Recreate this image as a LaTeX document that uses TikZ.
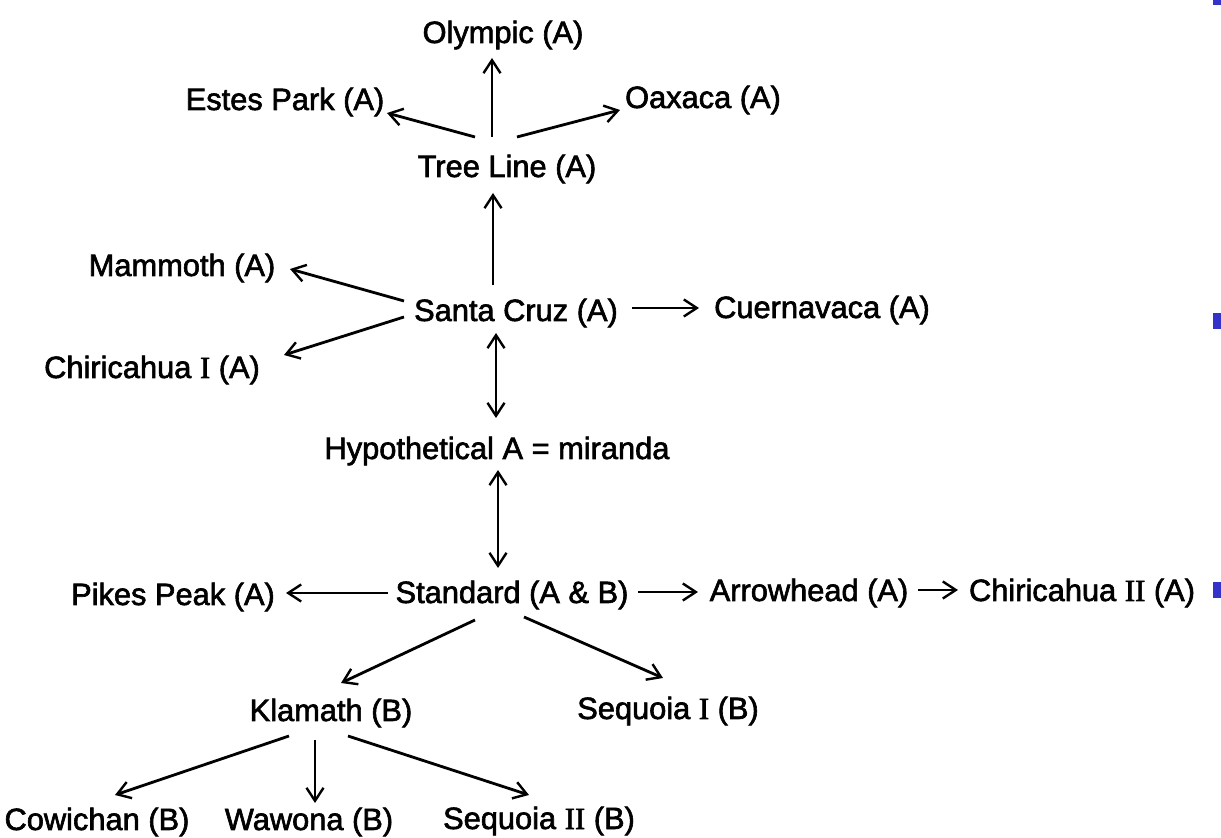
\documentclass[tikz,border=0pt]{standalone}
\usepackage{fontspec}
\newfontfamily\lblfont{Liberation Sans}[FakeBold=2]
\newfontfamily\romnum{Liberation Serif}[FakeBold=2]
\usetikzlibrary{arrows.meta,calc}
\begin{document}
\begin{tikzpicture}[x=0.5pt,y=-0.5pt,
  lbl/.style={inner sep=0pt,text height=11pt,text depth=3pt,font=\lblfont\fontsize{15.4}{18}\selectfont},
  tip/.style={},
  arr/.style={line width=1.4pt,-{Straight Barb[length=6.5pt,width=8.5pt,line width=1.2pt]}},
  darr/.style={line width=1.4pt,{Straight Barb[length=6.5pt,width=8.5pt,line width=1.2pt]}-{Straight Barb[length=6.5pt,width=8.5pt,line width=1.2pt]}},
  mark square/.style={fill={rgb,255:red,51;green,51;blue,204}}]
\useasboundingbox (0,0) rectangle (1221,838);
% nodes
\node[lbl] (ol) at (503,35) {Olympic (A)};
\node[lbl] (ep) at (285,102) {Estes Park (A)};
\node[lbl] (ox) at (703,100) {Oaxaca (A)};
\node[lbl] (tl) at (507,169) {Tree Line (A)};
\node[lbl] (mm) at (182,268) {Mammoth (A)};
\node[lbl] (sc) at (516,313) {Santa Cruz (A)};
\node[lbl] (cu) at (822,310) {Cuernavaca (A)};
\node[lbl] (c1) at (152,370) {Chiricahua {\romnum I} (A)};
\node[lbl] (hy) at (497,451) {Hypothetical A = miranda};
\node[lbl] (pp) at (173,597) {Pikes Peak (A)};
\node[lbl] (st) at (512,595) {Standard (A \& B)};
\node[lbl] (ar) at (809,593) {Arrowhead (A)};
\node[lbl] (c2) at (1082,593) {Chiricahua {\romnum II} (A)};
\node[lbl] (kl) at (331,713) {Klamath (B)};
\node[lbl] (s1) at (668,711) {Sequoia {\romnum I} (B)};
\node[lbl] (cw) at (97,822) {Cowichan (B)};
\node[lbl] (ww) at (309,822) {Wawona (B)};
\node[lbl] (s2) at (539,821) {Sequoia {\romnum II} (B)};
% connectors
\draw[arr] ($(tl)+(-15,-32)$) -- ($(ol)+(-11,23)$);
\draw[arr] ($(tl)+(-32,-32)$) -- ($(ep)+(102,11)$);
\draw[arr] ($(tl)+(10,-32)$) -- ($(ox)+(-83,10)$);
\draw[arr] ($(sc)+(-23,-28)$) -- ($(tl)+(-14,24)$);
\draw[arr] ($(sc)+(-112,-12)$) -- ($(mm)+(108,1)$);
\draw[arr] ($(sc)+(-112,4)$) -- ($(c1)+(132,-15)$);
\draw[arr] ($(sc)+(116,-5)$) -- ($(cu)+(-123,-2)$);
\draw[darr] ($(sc)+(-20,20)$) -- ($(hy)+(-1,-33)$);
\draw[darr] ($(hy)+(1,19)$) -- ($(st)+(-14,-27)$);
\draw[arr] ($(st)+(-124,-2)$) -- ($(pp)+(113,-4)$);
\draw[arr] ($(st)+(126,-3)$) -- ($(ar)+(-111,-1)$);
\draw[arr] ($(ar)+(109,-3)$) -- ($(c2)+(-124,-3)$);
\draw[arr] ($(st)+(-37,25)$) -- ($(kl)+(10,-30)$);
\draw[arr] ($(st)+(12,22)$) -- ($(s1)+(-5,-33)$);
\draw[arr] ($(kl)+(-42,23)$) -- ($(cw)+(18,-27)$);
\draw[arr] ($(kl)+(-16,27)$) -- ($(ww)+(6,-19)$);
\draw[arr] ($(kl)+(17,23)$) -- ($(s2)+(-10,-26)$);
% blue edge marks
\fill[mark square] (1213,0) rectangle (1221,5);
\fill[mark square] (1213,313) rectangle (1221,329);
\fill[mark square] (1213,582) rectangle (1221,598);
\end{tikzpicture}
\end{document}
